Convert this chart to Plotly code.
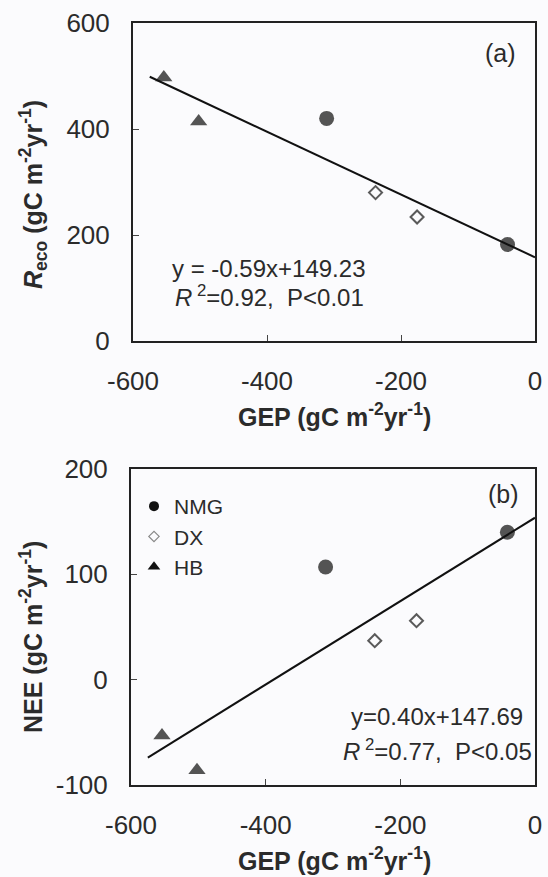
import numpy as np
import plotly.graph_objects as go

# ---------------- data ----------------
sites = ["NMG", "DX", "HB"]
gep_nmg = [-311, -41]
gep_dx = [-238, -176]
gep_hb = [-554, -502]
reco_nmg = [420, 182]
reco_dx = [280, 234]
reco_hb = [497, 414]
nee_nmg = [107, 140]
nee_dx = [37, 56]
nee_hb = [-53, -86]
fit_x_range = [-575, 0]
x_ticks = [-600, -400, -200, 0]
reco_ticks = [0, 200, 400, 600]
nee_ticks = [-100, 0, 100, 200]
eq_a = ["y = -0.59x+149.23", "<i>R</i><sup> 2</sup>=0.92,&nbsp; P&lt;0.01"]
eq_b = ["y=0.40x+147.69", "<i>R</i><sup> 2</sup>=0.77,&nbsp; P&lt;0.05"]

W, H = 548, 877
FONT = "Liberation Sans, Arial, sans-serif"
TXT = "#2b2b2b"
GRAY = "#545454"


def px(x):
    return x / W


def py(y):
    return 1 - y / H


fig = go.Figure()

styles = {
    "NMG": dict(symbol="circle", size=15, color=GRAY, line=dict(width=0)),
    "DX": dict(symbol="diamond-open", size=10, color="#5a5a5a", line=dict(width=2, color="#5a5a5a")),
    "HB": dict(symbol="triangle-up", size=15, color=GRAY, line=dict(width=0)),
}
gep = {"NMG": gep_nmg, "DX": gep_dx, "HB": gep_hb}
reco = {"NMG": reco_nmg, "DX": reco_dx, "HB": reco_hb}
nee = {"NMG": nee_nmg, "DX": nee_dx, "HB": nee_hb}

for s in sites:
    fig.add_trace(go.Scatter(x=gep[s], y=reco[s], mode="markers", marker=styles[s],
                             showlegend=False, xaxis="x", yaxis="y"))
    fig.add_trace(go.Scatter(x=gep[s], y=nee[s], mode="markers", marker=styles[s],
                             showlegend=False, xaxis="x2", yaxis="y2"))

all_gep = np.array(gep_nmg + gep_dx + gep_hb, dtype=float)
all_reco = np.array(reco_nmg + reco_dx + reco_hb, dtype=float)
all_nee = np.array(nee_nmg + nee_dx + nee_hb, dtype=float)
xf = np.array(fit_x_range, dtype=float)
ka, ba = np.polyfit(all_gep, all_reco, 1)
kb, bb = np.polyfit(all_gep, all_nee, 1)
fig.add_trace(go.Scatter(x=xf, y=ka * xf + ba, mode="lines", line=dict(color="#111", width=2),
                         showlegend=False, xaxis="x", yaxis="y"))
fig.add_trace(go.Scatter(x=xf, y=kb * xf + bb, mode="lines", line=dict(color="#111", width=2),
                         showlegend=False, xaxis="x2", yaxis="y2"))

# legend entries (small markers like the reference legend)
leg_styles = {
    "NMG": dict(symbol="circle", size=10, color="#111"),
    "DX": dict(symbol="diamond-open", size=8, color="#888", line=dict(width=1.2, color="#888")),
    "HB": dict(symbol="triangle-up", size=11, color="#111"),
}
for s in sites:
    fig.add_trace(go.Scatter(x=[None], y=[None], mode="markers", marker=leg_styles[s], name=s,
                             showlegend=True, xaxis="x2", yaxis="y2"))

axis_common = dict(showline=True, linewidth=2, linecolor="#222", mirror=True, ticks="inside",
                   ticklen=6, tickwidth=1, tickcolor="#444", showgrid=False, zeroline=False,
                   automargin=False,
                   tickfont=dict(family=FONT, size=26, color=TXT), ticklabelstandoff=16)

fig.update_layout(
    width=W, height=H,
    margin=dict(l=0, r=0, t=0, b=0, autoexpand=False),
    paper_bgcolor="#fbfbfd", plot_bgcolor="#fbfbfd",
    font=dict(family=FONT, color=TXT),
    xaxis=dict(domain=[px(133), px(535)], anchor="y", range=[-600, 0], tickvals=x_ticks,
               ticktext=[str(v) for v in x_ticks], **axis_common),
    yaxis=dict(domain=[py(341), py(23)], anchor="x", range=[0, 600], tickvals=reco_ticks,
               ticktext=[str(v) for v in reco_ticks], **axis_common),
    xaxis2=dict(domain=[px(131), px(535)], anchor="y2", range=[-600, 0], tickvals=x_ticks,
                ticktext=[str(v) for v in x_ticks], **axis_common),
    yaxis2=dict(domain=[py(785), py(469)], anchor="x2", range=[-100, 200], tickvals=nee_ticks,
                ticktext=[str(v) for v in nee_ticks], **axis_common),
    legend=dict(x=px(134), y=py(486), xanchor="left", yanchor="top", bgcolor="rgba(0,0,0,0)",
                font=dict(family=FONT, size=21, color=TXT), itemwidth=30, tracegroupgap=0),
    showlegend=True,
)


def note(text, x, y, size, xanchor="center", angle=0):
    return dict(text=text, x=px(x), y=py(y), xref="paper", yref="paper", showarrow=False,
                xanchor=xanchor, yanchor="middle", textangle=angle,
                font=dict(size=size, family=FONT, color=TXT))


title_x = "<b>GEP (gC m<sup>-2</sup>yr<sup>-1</sup>)</b>"
ann = [
    note(title_x, 335, 415, 25),
    note(title_x, 335, 859, 25),
    note("<b><i>R</i><sub>eco</sub> (gC m<sup>-2</sup>yr<sup>-1</sup>)</b>", 33, 195, 25, angle=-90),
    note("<b>NEE (gC m<sup>-2</sup>yr<sup>-1</sup>)</b>", 31, 637, 25, angle=-90),
    note("(a)", 500, 53, 25),
    note("(b)", 503, 494, 25),
    note(eq_a[0], 268, 268, 24),
    note(eq_a[1], 269, 296, 24),
    note(eq_b[0], 525, 716, 24, xanchor="right"),
    note(eq_b[1], 534, 750, 24, xanchor="right"),
]
fig.update_layout(annotations=ann)

fig.write_html("out.html")
